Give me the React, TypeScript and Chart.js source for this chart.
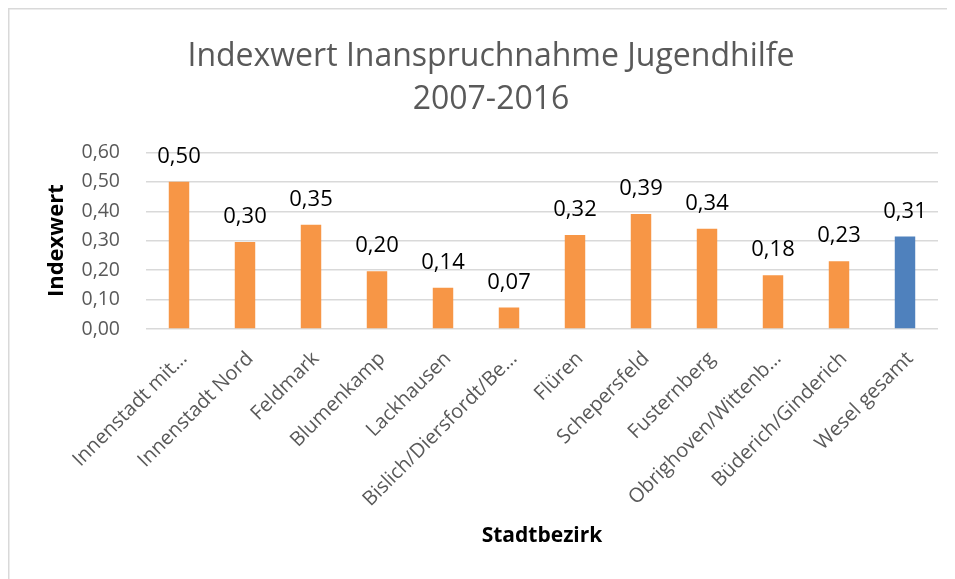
import React, { useEffect, useRef } from "react";
import { Chart, registerables } from "chart.js";

Chart.register(...registerables);

const categories = [
  "Innenstadt mit…",
  "Innenstadt Nord",
  "Feldmark",
  "Blumenkamp",
  "Lackhausen",
  "Bislich/Diersfordt/Be…",
  "Flüren",
  "Schepersfeld",
  "Fusternberg",
  "Obrighoven/Wittenb…",
  "Büderich/Ginderich",
  "Wesel gesamt",
];
const indexValues = [0.5, 0.296, 0.354, 0.196, 0.14, 0.073, 0.319, 0.391, 0.341, 0.183, 0.23, 0.314];
const barColors = [
  "#F79646", "#F79646", "#F79646", "#F79646", "#F79646", "#F79646",
  "#F79646", "#F79646", "#F79646", "#F79646", "#F79646", "#4F81BD",
];
const titleLines = ["Indexwert Inanspruchnahme Jugendhilfe", "2007-2016"];
const yTitle = "Indexwert";
const xTitle = "Stadtbezirk";

const FONT = '"Open Sans", "DejaVu Sans", sans-serif';
const fmt = (v: number) => v.toFixed(2).replace(".", ",");

const frame = {
  id: "frame",
  beforeDraw(chart: any) {
    const { ctx, width, height } = chart;
    ctx.save();
    ctx.fillStyle = "#ffffff";
    ctx.fillRect(0, 0, width, height);
    ctx.fillStyle = "#d9d9d9";
    ctx.fillRect(0, 0, width, 1.5);
    ctx.fillRect(0, 0, 1.5, height);
    ctx.restore();
  },
};

const valueLabels = {
  id: "valueLabels",
  afterDatasetsDraw(chart: any) {
    const { ctx } = chart;
    const meta = chart.getDatasetMeta(0);
    ctx.save();
    ctx.font = `22px ${FONT}`;
    ctx.fillStyle = "#000000";
    ctx.textAlign = "center";
    ctx.textBaseline = "alphabetic";
    meta.data.forEach((bar: any, i: number) => {
      const v = chart.data.datasets[0].data[i];
      ctx.fillText(fmt(v), bar.x, bar.y - 19);
    });
    ctx.restore();
  },
};

export default function App() {
  const ref = useRef<HTMLCanvasElement>(null);
  useEffect(() => {
    if (!ref.current) return;
    const chart = new Chart(ref.current, {
      type: "bar",
      data: {
        labels: categories,
        datasets: [
          {
            data: indexValues,
            backgroundColor: barColors,
            categoryPercentage: 1,
            barPercentage: 0.31,
          },
        ],
      },
      options: {
        animation: false,
        responsive: false,
        layout: { padding: { left: 36, right: 17, top: 0, bottom: 30 } },
        plugins: {
          legend: { display: false },
          tooltip: { enabled: false },
          title: {
            display: true,
            text: titleLines,
            color: "#595959",
            font: { family: FONT, size: 32, weight: "normal", lineHeight: 1.35 },
            padding: { top: 27, bottom: 31 },
          },
        },
        scales: {
          x: {
            grid: { display: false },
            border: { display: false },
            ticks: {
              color: "#595959",
              font: { family: FONT, size: 20 },
              minRotation: 45,
              maxRotation: 45,
              autoSkip: false,
              padding: 10,
              labelOffset: 5,
            },
            title: {
              display: true,
              text: xTitle,
              color: "#000000",
              font: { family: FONT, size: 21, weight: "bold", lineHeight: 1.2 },
              padding: 0,
            },
            afterFit(scale: any) {
              scale.height = 220;
            },
          },
          y: {
            min: 0,
            max: 0.6,
            ticks: {
              stepSize: 0.1,
              color: "#595959",
              font: { family: FONT, size: 19.5 },
              padding: 26,
              callback: (v: any) => fmt(Number(v)),
            },
            grid: { color: "#d9d9d9", lineWidth: 1.5, drawTicks: false },
            border: { display: false },
            title: {
              display: true,
              text: yTitle,
              color: "#000000",
              font: { family: FONT, size: 22, weight: "bold", lineHeight: 1.2 },
              padding: 0,
            },
            afterFit(scale: any) {
              scale.width = 102;
            },
          },
        },
      },
      plugins: [frame, valueLabels],
    });
    return () => chart.destroy();
  }, []);
  return <canvas ref={ref} width={947} height={571} style={{ display: "block" }} />;
}
